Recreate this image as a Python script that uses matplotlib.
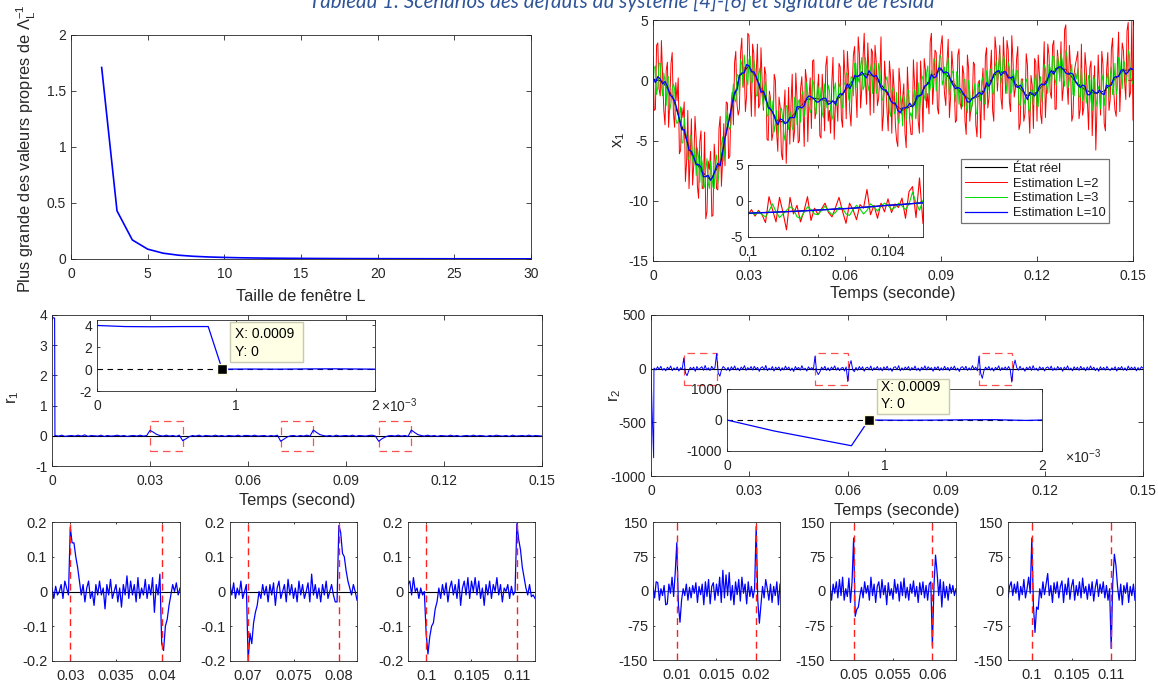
import numpy as np
import matplotlib
matplotlib.use('Agg')
import matplotlib.pyplot as plt
from matplotlib.patches import Rectangle

# ======================= DATA =======================
caption = 'Tableau 1: Scénarios des défauts du système [4]-[6] et signature de résidu'

# --- top-left: largest eigenvalue vs window size
win_L = list(range(2, 31))
eig_max = [1.71, 0.43, 0.17, 0.088, 0.052, 0.034, 0.024, 0.018, 0.014, 0.011,
           0.009, 0.0075, 0.0064, 0.0055, 0.0048, 0.0042, 0.0037, 0.0033, 0.003, 0.0027,
           0.0025, 0.0023, 0.0021, 0.0019, 0.0018, 0.0017, 0.0016, 0.0015, 0.0014]

# --- top-right: state x1 and its estimates
t_true = np.linspace(0, 0.15, 51)
x1_true = [0.1, -0.1, -1.3, -3.8, -6.1, -7.5, -8.3, -6.8, -2.9, 0.3,
           1.2, -0.2, -2.1, -3.4, -3.5, -2.5, -1.6, -1.5, -1.7, -1.8,
           -0.9, 0.2, 0.55, 0.35, -0.6, -1.9, -2.5, -2.1, -1.0, 0.3,
           0.9, 0.1, -1.0, -1.6, -1.3, -0.2, 0.8, 0.4, -0.5, -1.3,
           -1.0, 0.0, 1.0, 0.9, -0.1, -0.8, -1.1, -0.9, 0.0, 0.8, 0.9]
# estimates sampled every 0.375 ms: values on the 0.75 ms grid, then the in-between samples
t_est = np.linspace(0, 0.15, 401)
x1_L2_grid = [1.9, -2.4, 3.1, -1.3, 0.5, -3.7, 1.5, -1.8, 2.3, -3.9,
              -1.7, -6.1, -2.3, -1.8, -6.8, -9.0, -3.2, -6.9, -4.9, -9.8,
              -4.2, -8.8, -11.5, -6.7, -5.9, -11.2, -6.9, -9.1, -3.0, -6.7,
              -7.1, -1.9, -6.3, -1.0, 1.5, -2.0, -2.4, 3.5, 1.1, -1.3,
              3.7, -3.0, 2.2, 0.6, -2.3, 2.7, -2.5, 0.5, -5.0, -1.6,
              -4.4, 0.0, -5.9, -2.2, -6.6, -0.8, -4.1, -5.3, 0.5, -4.2,
              -1.5, -5.0, 0.3, -5.5, 0.0, -1.4, -4.0, 1.7, -2.5, 0.5,
              -4.8, -1.2, 1.2, -3.4, -4.4, 1.9, -2.1, -3.4, 1.1, -3.9,
              0.3, 2.4, -2.6, -0.6, 2.8, -3.1, 2.2, -0.7, 3.9, -2.0,
              0.6, 2.6, -2.7, 1.6, -1.5, 3.6, -2.9, -0.3, -4.2, 0.3,
              0.9, -3.7, -5.5, -0.3, -1.6, -4.4, 1.1, -3.4, -4.5, -0.4,
              1.5, -4.4, -0.6, 1.8, -2.3, -2.8, 3.9, -0.3, 2.3, -2.8,
              2.9, 0.5, -2.1, 3.4, -1.4, 0.9, -3.5, 2.1, -1.9, 1.2,
              -3.4, 2.1, -3.4, -2.1, 1.3, -4.7, 0.0, -0.5, -3.3, 2.7,
              -1.5, 2.5, -3.4, 2.5, 1.0, -1.5, 3.6, -1.1, 2.5, -2.6,
              1.6, -0.7, 2.8, -3.6, 0.1, -2.8, 1.3, -4.4, -0.4, 1.8,
              -3.4, 0.5, -3.6, 3.2, -0.8, 2.1, -1.5, 3.3, -2.4, 1.3,
              3.2, -0.6, 4.6, -2.0, 1.0, -2.9, 1.3, 2.4, -2.4, -2.9,
              2.3, -1.8, 1.0, -4.6, 1.2, -2.3, -0.6, 2.4, -3.6, 0.8,
              -2.5, 2.6, -1.0, -3.0, 4.0, 0.1, 2.5, -1.6, 4.8, -1.0,
              -3.3]
x1_L2_mid = [-2.5, 2.9, -0.7, 3.3, -2.5, 0.8, -3.9, 1.4, -2.7, -0.2,
             0.2, -5.8, -3.1, -8.4, -2.5, -6.3, -8.7, -3.0, -8.8, -5.1,
             -9.0, -4.3, -10.9, -7.4, -11.3, -5.3, -9.0, -4.0, -8.8, -3.6,
             -1.8, -6.5, -2.1, -3.7, 2.4, -2.9, 2.3, -0.6, -2.6, 3.9,
             0.1, 3.0, -3.0, 3.0, -2.0, -0.2, 1.1, -4.9, -0.9, -5.0,
             0.5, -4.3, -1.4, -6.1, -2.6, -6.9, -0.6, -2.0, -5.1, 0.6,
             -5.2, -0.7, -2.3, 0.9, -5.1, 0.2, 1.6, -3.2, -0.9, -4.6,
             0.5, -4.2, 2.0, -2.5, -0.2, -4.9, -1.5, 1.4, -3.2, 2.5,
             -3.2, 0.4, -3.8, 2.1, -0.8, 3.6, -2.3, 1.8, -0.1, 3.1,
             -2.9, 2.3, 2.9, -2.1, 0.3, -4.2, 1.6, -2.5, 1.6, -4.4,
             -0.8, -5.0, 1.0, -2.8, -0.3, -5.6, -1.3, -4.5, 1.7, -3.2,
             -3.4, 1.6, -4.3, 0.9, -1.1, 3.2, -2.0, 2.5, -2.3, 1.6,
             3.7, -1.2, 1.5, -3.1, 2.4, -0.5, -3.3, 2.6, -2.4, 0.5,
             -4.5, 1.0, -2.2, 1.5, -3.7, -0.2, -4.8, 1.0, 2.0, -2.3,
             0.7, -2.5, 3.6, -0.9, 2.9, -2.4, 1.0, 3.3, -1.8, 3.7,
             -1.4, 1.8, -4.1, 0.1, -3.4, 2.2, -2.3, 0.4, -4.0, 1.5,
             2.1, -2.8, 0.3, -3.1, 3.0, -1.0, 2.9, -2.4, 2.5, 0.2,
             -1.7, 4.2, -0.3, 2.9, -3.4, 0.6, 1.8, -3.2, 3.0, -2.3,
             1.0, -4.1, 1.6, -1.8, -5.8, 2.1, -2.9, 1.3, -4.2, 2.3,
             -1.6, 3.5, -2.5, 1.3, -2.6, 3.1, -0.1, 4.1, -1.4, 4.9]
x1_L3_grid = [-0.7, 1.2, -0.5, 1.4, -1.3, -0.1, 0.3, -2.5, -0.7, -0.7,
              -3.6, -2.8, -5.2, -3.1, -4.8, -6.4, -4.6, -7.1, -7.9, -6.4,
              -6.3, -9.0, -7.4, -8.5, -6.7, -8.9, -6.7, -8.6, -6.5, -4.7,
              -5.6, -2.5, -4.1, -1.5, -1.6, 0.5, -1.3, 1.3, 2.1, 0.1,
              1.7, -0.3, 1.7, -1.3, 0.5, -0.6, -2.2, -0.1, -2.9, -2.0,
              -1.7, -3.7, -4.7, -2.5, -3.1, -5.0, -2.2, -3.5, -3.9, -1.4,
              -3.7, -1.6, -1.2, -3.0, -0.2, -2.1, -2.4, -0.3, -2.8, -1.0,
              -0.6, -3.1, -1.4, -0.4, -2.5, -2.9, -0.2, -2.0, -0.6, -2.3,
              -0.3, 0.5, -1.9, 0.2, 1.4, -0.6, -0.2, 1.9, -0.5, 1.0,
              -0.9, 1.4, 0.8, -1.1, 1.4, -0.7, -1.7, 0.0, -0.6, -3.0,
              -0.6, -2.6, -3.2, -1.3, -3.8, -1.8, -1.1, -3.0, -3.3, -0.8,
              -1.3, -2.7, 0.4, -1.3, 0.6, -1.2, 0.8, 1.8, -0.9, 1.0,
              1.9, 0.0, -0.7, 1.8, -0.3, 0.6, -1.8, 0.4, -0.9, -2.2,
              0.1, -2.7, -1.0, -2.0, -0.3, -2.8, -0.6, -0.1, -1.9, 0.8,
              -0.8, 0.9, -1.2, 1.6, 1.1, -0.3, 2.0, -0.2, 1.5, -1.1,
              0.9, -0.5, 0.8, -2.1, -0.4, -2.0, -0.1, -2.7, -0.8, 0.0,
              -2.1, -0.2, -1.8, 1.3, -0.4, 1.3, -0.4, 2.0, -0.4, 1.3,
              2.2, 0.1, 2.5, -0.6, 0.6, -1.2, 0.6, 1.0, -1.4, -1.7,
              0.6, -1.2, 0.0, -2.5, 0.0, -1.7, -0.8, 0.5, -2.1, 0.1,
              -1.4, 1.1, -0.5, -1.2, 1.9, 0.4, 1.6, -0.3, 2.5, 0.2,
              -0.3]
x1_L3_mid = [1.0, -1.2, 1.4, -0.5, 0.6, -2.1, 0.3, -1.9, -0.3, -3.2,
             -3.4, -2.2, -5.2, -4.1, -6.6, -4.6, -6.6, -5.6, -5.6, -8.5,
             -6.9, -8.8, -6.5, -9.0, -7.8, -9.0, -6.2, -7.6, -5.3, -6.7,
             -3.3, -3.8, -3.7, -0.3, -1.8, 0.4, 1.7, -0.5, 1.1, -0.4,
             2.0, -0.1, 0.9, -1.3, 1.0, -1.4, -0.5, -3.0, -1.2, -2.9,
             -4.3, -2.5, -3.6, -2.3, -4.5, -2.1, -4.1, -2.6, -4.2, -1.6,
             -1.8, -3.5, -0.9, -2.2, -1.2, -2.7, 0.0, -2.4, -0.3, -2.2,
             -2.7, -0.3, -2.3, -0.8, -3.3, -0.8, -2.1, -0.2, -2.0, -0.3,
             0.6, -1.5, 0.3, -1.3, 1.4, 0.2, 1.2, -0.8, 1.9, -0.4,
             0.8, -1.1, 1.4, -0.7, 0.8, -1.6, -0.5, 0.3, -2.6, -0.9,
             -2.8, -1.0, -3.6, -1.8, -1.3, -3.3, -0.8, -2.7, -1.3, -3.1,
             -0.2, -1.5, 0.1, -1.7, 1.2, -0.7, -0.6, 1.6, 0.3, 2.1,
             -0.4, 1.1, 1.4, -1.2, 0.8, -0.9, 0.7, -2.0, -0.9, 0.0,
             -2.1, 0.0, -2.6, -1.1, -2.7, -0.3, -1.7, 0.3, -2.0, 0.3,
             0.9, -1.0, 1.1, -0.2, 2.2, 0.4, 1.7, -1.1, 1.1, -0.9,
             0.3, 0.8, -2.0, 0.1, -1.6, 0.1, -2.4, -0.8, -2.0, 0.5,
             -2.2, 0.3, -0.9, 1.0, -1.1, 1.0, 2.0, 0.1, 2.0, -0.1,
             1.7, -0.5, 2.0, 0.1, 1.3, -1.3, 0.1, -1.4, 1.0, -1.3,
             -1.9, 0.4, -1.7, 0.4, -2.2, -0.5, -2.4, 0.0, -1.1, 0.6,
             0.3, -1.2, 1.4, -0.5, 1.6, -0.7, 1.5, 0.3, 2.1, 0.0]
# L=10 estimate every 0.75 ms: samples on the 1.5 ms grid, then the in-between samples
t_L10 = np.linspace(0, 0.15, 201)
x1_L10_grid = [0.2, 0.3, -0.3, -0.5, -1.4, -2.4, -4.1, -4.9, -5.9, -7.0,
               -7.2, -8.0, -8.3, -7.4, -7.1, -4.8, -3.1, -1.0, 0.4, 0.6,
               1.2, 0.7, -0.3, -0.9, -2.3, -2.7, -3.7, -3.3, -3.5, -3.1,
               -2.2, -2.3, -1.5, -1.4, -1.8, -1.6, -1.5, -1.9, -2.0, -1.1,
               -0.8, -0.7, 0.4, 0.4, 0.4, 0.8, 0.3, 0.0, -0.8, -1.1,
               -1.9, -2.5, -2.3, -2.2, -2.2, -1.3, -1.2, -0.4, 0.5, 0.3,
               1.0, 0.7, 0.0, -0.7, -0.7, -1.3, -1.8, -1.4, -1.0, -0.9,
               -0.5, 0.5, 0.8, 0.7, 0.2, 0.3, -0.6, -0.7, -1.6, -1.1,
               -1.0, -0.3, -0.2, 0.8, 0.9, 1.1, 0.6, 0.6, -0.1, -0.6,
               -0.5, -1.2, -1.0, -0.8, -1.2, -0.5, 0.2, 0.3, 0.9, 0.7,
               0.9]
x1_L10_mid = [-0.2, 0.1, -0.1, -1.2, -1.7, -3.3, -4.1, -5.8, -6.4, -7.0,
              -8.0, -7.9, -8.0, -6.9, -6.0, -3.9, -1.9, -0.8, 0.6, 1.3,
              0.7, 0.3, -1.0, -1.4, -2.4, -3.3, -3.2, -3.6, -3.1, -3.1,
              -2.2, -2.1, -1.3, -1.5, -1.8, -1.5, -2.0, -1.7, -1.4, -1.2,
              -0.3, -0.3, 0.3, 0.7, 0.2, 0.5, 0.4, -0.6, -0.8, -1.7,
              -1.9, -2.7, -2.3, -1.9, -2.0, -1.3, -0.5, -0.2, 0.2, 1.0,
              0.6, 0.6, -0.4, -0.6, -1.0, -1.8, -1.5, -1.2, -1.2, -0.2,
              -0.1, 0.7, 0.4, 0.7, 0.2, -0.5, -0.4, -1.2, -1.0, -1.3,
              -0.5, -0.4, 0.5, 0.5, 1.1, 0.9, 0.5, 0.5, -0.4, -0.4,
              -1.2, -0.8, -1.1, -1.1, -0.4, -0.4, 0.3, 0.8, 0.5, 1.0]
legend_labels = ['État réel', 'Estimation L=2', 'Estimation L=3', 'Estimation L=10']

# --- top-right inset (zoom 0.1 .. 0.105)
t_ins = np.linspace(0.1, 0.105, 51)
t_ins_true = np.linspace(0.1, 0.105, 6)
x1_ins_true = [-1.70, -1.50, -1.25, -1.00, -0.60, -0.25]
x1_ins_L2 = [-1.9, -1.2, -2.1, -1.3, -1.9, -3.0, 0.6, -1.2, -2.9, 0.5,
             -1.6, -4.0, 0.5, -1.8, -0.6, -2.9, -1.4, 0.6, -2.7, -1.0,
             -1.9, -1.1, -0.3, -1.6, -2.2, -0.9, 0.5, -1.4, -3.1, -0.3,
             -1.2, -2.6, -0.5, -1.0, 1.6, -1.9, -0.6, -2.4, -0.3, -1.5,
             0.3, -1.6, -0.4, -0.9, 0.4, -2.4, 1.3, 2.0, -2.3, 3.2, -3.1]
x1_ins_L3 = [-1.8, -1.6, -1.9, -1.5, -1.9, -2.2, -1.4, -0.4, -1.5, -2.3,
             -1.8, -1.3, -0.8, -1.1, -2.2, -2.4, -1.6, -0.8, -1.2, -1.8,
             -1.9, -1.3, -0.7, -1.4, -1.9, -1.6, -0.9, -1.0, -1.8, -2.0,
             -1.2, -0.6, -1.1, -1.8, -1.3, -0.4, -0.8, -1.4, -0.7, -0.3,
             -0.6, -1.2, -0.9, -0.3, -0.7, -1.2, -0.4, 1.2, -0.2, -1.3, 0.1]
x1_ins_L10 = [-1.70, -1.68, -1.66, -1.65, -1.62, -1.60, -1.58, -1.57, -1.54, -1.52,
              -1.50, -1.49, -1.46, -1.44, -1.42, -1.40, -1.38, -1.35, -1.32, -1.29,
              -1.25, -1.24, -1.21, -1.18, -1.14, -1.10, -1.09, -1.07, -1.05, -1.02,
              -1.00, -0.96, -0.92, -0.88, -0.84, -0.80, -0.77, -0.73, -0.68, -0.64,
              -0.60, -0.58, -0.55, -0.52, -0.48, -0.45, -0.40, -0.36, -0.31, -0.28, -0.25]

# --- middle-left: residual r1
r1_t = np.concatenate([[0.0, 0.0002, 0.0004, 0.0006, 0.0008, 0.0009], np.linspace(0.001, 0.15, 150)])
r1_val = [4.0, 3.93, 3.9, 3.9, 3.9, 0.0,
          .01, -.01, .02, -.02, .0, .01, -.01, .02, -.01, .03,
          -.02, .01, .0, -.01, .02, -.02, .01, -.01, .0, .02,
          -.01, .01, -.02, .0, .01, -.01, .02, -.01, .01,
          .18, .12, .05, .01, -.01, .02, -.01, .01, -.02, .02,
          -.16, -.10, -.03, .01, -.01, .02, -.02, .01, .0, -.01,
          .02, -.01, .01, -.02, .01, .0, -.01, .02, -.02, .01,
          .01, -.01, .02, -.01, .0, .01, -.02, .01, -.01, .02,
          -.18, -.11, -.04, .0, .01, -.02, .01, -.01, .02, -.01,
          .19, .11, .04, .01, -.01, .01, -.02, .02, -.01, .0,
          .01, -.01, .02, -.02, .01, .0, -.01, .01, .02, -.01,
          -.18, -.10, -.04, .0, .01, -.01, .02, -.01, .01, -.02,
          .19, .11, .04, .01, -.01, .02, -.01, .01, -.02, .01,
          .0, -.01, .02, -.01, .01, -.02, .0, .01, -.01, .02,
          -.01, .01, .0, -.02, .01, -.01, .02, .0, -.01, .01,
          -.02, .02, -.01, .0, .01, -.01, .02, -.01, .01, .0, -.01]
r1_events = [(0.03, 0.04), (0.07, 0.08), (0.10, 0.11)]
r1_box_half = 0.5
r1_ins_t = [0, 0.0001, 0.0002, 0.0004, 0.0006, 0.0008, 0.0009, 0.0011, 0.0013, 0.0015, 0.0017, 0.0019, 0.002]
r1_ins_val = [4.0, 3.95, 3.9, 3.88, 3.9, 3.9, 0.0, 0.01, 0.0, 0.02, 0.03, 0.01, 0.0]

# --- middle-right: residual r2
r2_t = np.concatenate([[0.0, 0.0003, 0.0008, 0.0009], np.linspace(0.001, 0.15, 299)])
r2_val = [0, -355, -830, 0,
          5, -12, 18, -8, 22, -15, 3, -20, 14, -5, 25, -18, 7, -10, 16, -22, 9, -6, 100, -40,
          -65, -20, 12, -8, 15, -25, 20, -10, 5, 18, -15, 30, -12, 8, -18, 22, -5, 10, 140, -40,
          -70, -10, 20, 5, -15, 12, -22, 18, -8, 25, -12, 6, -20, 15, -5, 28, -16, 10, -9, 20,
          -14, 22, -6, 12, -25, 8, 18, -12, 30, -18, 5, -10, 20, -22, 14, -4, 16, -20, 9, -12,
          24, -8, 15, -18, 6, -26, 20, -5, 12, -15, 28, -10, 4, -22, 17, -7, 10, -12, 115, -25,
          -55, -30, 14, -10, 22, -16, 8, -20, 15, -5, 26, -14, 10, -18, 5, 12, -22, 16, -120, 30,
          75, -10, -28, 12, -15, 20, -8, 18, -24, 6, 14, -12, 25, -18, 9, -6, 20, -14, 10, -20,
          16, -8, 22, -15, 5, -25, 12, 18, -10, 28, -20, 8, -12, 15, -5, 20, -18, 10, -8, 24,
          -16, 6, -22, 14, -9, 26, -12, 18, -6, 10, -24, 15, -4, 20, -18, 8, -14, 22, -10, 12,
          -20, 16, -8, 24, -14, 5, -26, 12, 18, -10, 22, -16, 8, -12, 28, -6, 14, -20, 115, -40,
          -90, -20, 15, -10, 20, -14, 8, -22, 12, -5, 26, -18, 10, -8, 16, -12, 20, -6, -125, 20,
          80, 10, -15, 22, -10, 6, -24, 14, -8, 20, -16, 28, -12, 5, -20, 18, -6, 12, -22, 10,
          16, -10, 24, -18, 8, -14, 20, -6, 12, -24, 15, -8, 26, -12, 6, -20, 18, -10, 14, -16,
          22, -6, 10, -20, 16, -12, 25, -8, 14, -18, 6, -24, 18, -10, 12, -14, 20, -5, -16, 8,
          -10, 18, -22, 12, -6, 20, -14, 8, -18, 24, -10, 14, -8, 16, -20, 10, -12, 18, 5]
r2_events = [(0.01, 0.02), (0.05, 0.06), (0.10, 0.11)]
r2_box_half = 150
r2_ins_t = [0, 0.0003, 0.00079, 0.0009, 0.0011, 0.0013, 0.0015, 0.0017, 0.0019, 0.002]
r2_ins_val = [0, -355, -830, 0, -8, -4, 6, 10, -14, 0]

tip_x, tip_y = 0.0009, 0

# --- bottom-left: zooms of r1 (dt = 0.2 ms)
r1_zoom_lims = [(0.028, 0.042), (0.068, 0.082), (0.098, 0.112)]
r1_zoom_ticks = [[0.03, 0.035, 0.04], [0.07, 0.075, 0.08], [0.1, 0.105, 0.11]]
r1_zoom_ticklabels = [['0.03', '0.035', '0.04'], ['0.07', '0.075', '0.08'], ['0.1', '0.105', '0.11']]
r1_zoom_1 = [.01, -.02, .015, -.01, .0, .02, -.02, .03, .01, -.01,
             .185, .14, .14, .10, .07, .03, -.01, .02, -.03, .01,
             .03, -.02, .0, -.04, .02, -.01, .03, -.01, .01, -.05,
             .02, -.01, .035, -.02, .0, .02, -.03, .01, -.045, .02,
             -.01, .045, -.02, .03, -.01, .02, -.03, .04, -.02, .01,
             -.01, .035, -.02, .02, -.01, .04, -.06, .02, -.01, .05,
             -.15, -.17, -.10, -.08, -.04, -.01, .02, .0, .025, -.01, .01]
r1_zoom_2 = [.02, -.01, .025, -.02, .01, -.01, .03, -.02, .0, .02,
             -.20, -.12, -.15, -.09, -.06, -.04, .0, -.02, .02, -.01,
             .015, -.03, .02, -.01, .025, -.04, .01, .03, -.02, .0,
             .02, -.03, .035, -.01, .02, -.02, .01, -.03, .03, -.01,
             .02, -.02, .0, .025, -.03, .05, -.01, .02, -.02, .01,
             -.03, .02, -.01, .03, -.02, .0, .02, -.01, -.03, -.03,
             .19, .17, .11, .10, .06, .03, .01, -.01, .02, .0, -.025]
r1_zoom_3 = [.02, .03, -.01, .04, .0, .01, -.02, .01, -.01, .0,
             -.12, -.18, -.13, -.10, -.09, -.05, -.03, .01, -.02, .02,
             -.01, .025, -.03, .01, .03, -.01, .02, -.02, .035, -.04,
             .01, .03, -.01, .04, -.02, .03, .0, .04, -.01, .03,
             -.02, .01, -.04, .02, -.01, .03, -.02, .02, .0, .04,
             -.01, .02, -.03, .01, .0, .02, -.02, .015, -.01, .0,
             .195, .15, .12, .07, .04, .01, -.01, .02, -.015, -.01, -.02]
r1_zooms = [r1_zoom_1, r1_zoom_2, r1_zoom_3]

# --- bottom-right: zooms of r2 (dt = 0.2 ms)
r2_zoom_lims = [(0.007, 0.023), (0.047, 0.063), (0.097, 0.113)]
r2_zoom_ticks = [[0.01, 0.015, 0.02], [0.05, 0.055, 0.06], [0.1, 0.105, 0.11]]
r2_zoom_ticklabels = [['0.01', '0.015', '0.02'], ['0.05', '0.055', '0.06'], ['0.1', '0.105', '0.11']]
r2_zoom_1 = [10, -15, 20, 18, -20, 5, -10, 12, -30, -28,
             15, -5, 30, -12, 40, 105, -30, -68, -20, 5,
             -10, 15, -20, 8, -15, 12, -5, 18, -25, 10,
             -8, 15, -30, 20, -12, 25, -28, 10, 18, -20,
             15, -10, 30, -25, 45, -15, 35, -10, 40, -20,
             12, -30, 20, -8, 25, -22, 30, -5, 15, -28,
             20, -12, 10, -15, 5, 140, -20, -70, -30, 10,
             -15, 25, 5, -20, 15, -25, 10, -10, 20, -30, 15]
r2_zoom_2 = [10, -20, 15, -5, 20, -15, 25, -10, 30, -20,
             5, -12, 28, -25, 20, 115, -55, -40, -35, -10,
             8, -15, 20, -5, 12, -20, 30, -10, 15, -25,
             10, 20, -15, 25, -8, 12, -30, 18, -10, 5,
             -18, 25, -5, 15, -22, 20, -10, 28, -15, 8,
             -20, 15, -5, 22, -12, 10, -25, 18, -8, 20,
             -15, 12, -20, 15, 20, -120, 10, 78, 40, -10,
             25, -35, 20, -15, 10, -20, 15, -5, 12, -10, 5]
r2_zoom_3 = [-15, 10, 20, -10, 15, -5, 20, -20, 10, -8,
             25, -15, 5, 30, -5, 115, -30, -90, -35, -40,
             5, -15, 20, -8, 15, 38, -10, 12, -25, 18,
             -5, 20, -15, 10, 22, -25, 15, -8, 28, -18,
             10, 25, -20, 12, -10, 20, -15, 28, -5, 10,
             -18, 15, -10, 20, -22, 8, 25, -12, 15, -5,
             20, -15, 12, -20, 5, -125, 20, 80, 55, 10,
             -20, 15, -30, 12, -5, 18, -25, 10, -10, 15, -20]
r2_zooms = [r2_zoom_1, r2_zoom_2, r2_zoom_3]

main_xticks = [0, 0.03, 0.06, 0.09, 0.12, 0.15]
main_xticklabels = ['0', '0.03', '0.06', '0.09', '0.12', '0.15']


def interleave(grid_vals, mid_vals):
    out = np.empty(len(grid_vals) + len(mid_vals))
    out[0::2] = grid_vals
    out[1::2] = mid_vals
    return out


x1_L2 = interleave(x1_L2_grid, x1_L2_mid)
x1_L3 = interleave(x1_L3_grid, x1_L3_mid)
x1_L10 = interleave(x1_L10_grid, x1_L10_mid)

# ======================= STYLE / LAYOUT =======================
plt.rcParams['font.family'] = ['Liberation Sans', 'DejaVu Sans']
plt.rcParams['mathtext.fontset'] = 'custom'
plt.rcParams['mathtext.rm'] = 'Liberation Sans'
plt.rcParams['mathtext.it'] = 'Liberation Sans:italic'
plt.rcParams['mathtext.bf'] = 'Liberation Sans:bold'
plt.rcParams['axes.unicode_minus'] = False

W, H = 1158, 682
fig = plt.figure(figsize=(W / 100, H / 100), dpi=100)
fig.patch.set_facecolor('white')
AX_C = '0.15'
TICK_FS = 10
LAB_FS = 11.8


def add_ax(l, t, r, b):
    return fig.add_axes([l / W, 1 - b / H, (r - l) / W, (b - t) / H])


def style(ax, tl=3.4, fs=TICK_FS, xpad=5.6, ypad=3.5):
    for s in ax.spines.values():
        s.set_color(AX_C)
        s.set_linewidth(0.6)
    ax.tick_params(direction='in', top=True, right=True, length=tl, width=0.6,
                   colors=AX_C, labelsize=fs)
    ax.tick_params(axis='x', pad=xpad)
    ax.tick_params(axis='y', pad=ypad)


def ftext(px, py, s, **kw):
    kw.setdefault('color', AX_C)
    return fig.text(px / W, 1 - py / H, s, **kw)


# ---------------- caption (cut by the top edge, as in the source) ----------------
fig.text(622 / W, 1 - 8 / H, caption, ha='center', va='baseline', fontsize=14.8,
         style='italic', color='#2F5597', family=['Lato', 'DejaVu Sans'])

# ---------------- top-left ----------------
ax = add_ax(71, 35, 531, 259)
ax.plot(win_L, eig_max, color='#0000FF', lw=1.2)
ax.set_xlim(0, 30)
ax.set_ylim(0, 2)
ax.set_xticks([0, 5, 10, 15, 20, 25, 30])
ax.set_yticks([0, 0.5, 1, 1.5, 2])
ax.set_yticklabels(['0', '0.5', '1', '1.5', '2'])
style(ax)
ftext(301, 296, 'Taille de fenêtre L', ha='center', va='center', fontsize=LAB_FS)
ftext(26, 149, r'Plus grande des valeurs propres de $\Lambda_\mathrm{L}^{-1}$', rotation=90,
      ha='center', va='center', fontsize=LAB_FS)

# ---------------- top-right ----------------
ax = add_ax(653, 20, 1133, 261)
h0, = ax.plot(t_true, x1_true, color='k', lw=0.8)
h1, = ax.plot(t_est, x1_L2, color='#FF0000', lw=0.7)
h2, = ax.plot(t_est, x1_L3, color='#00DD00', lw=0.7)
h3, = ax.plot(t_L10, x1_L10, color='#0000FF', lw=0.9)
ax.set_xlim(0, 0.15)
ax.set_ylim(-15, 5)
ax.set_xticks(main_xticks)
ax.set_xticklabels(main_xticklabels)
ax.set_yticks([-15, -10, -5, 0, 5])
style(ax)
leg = ax.legend([h0, h1, h2, h3], legend_labels, loc='upper left', bbox_to_anchor=(0.6417, 0.423),
                fontsize=9.3, frameon=True, fancybox=False, edgecolor='0.45', framealpha=1,
                handlelength=3.3, handletextpad=0.45, labelspacing=0.22, borderpad=0.28,
                borderaxespad=0)
leg.get_frame().set_linewidth(0.9)
for tx in leg.get_texts():
    tx.set_color('0.1')
ftext(893, 293, 'Temps (seconde)', ha='center', va='center', fontsize=LAB_FS)
ftext(619, 140, r'$\mathrm{x_1}$', rotation=90, ha='center', va='center', fontsize=LAB_FS)

axi = add_ax(748, 165, 923, 237)
axi.plot(t_ins_true, x1_ins_true, color='k', lw=0.8)
axi.plot(t_ins, x1_ins_L2, color='#FF0000', lw=0.8)
axi.plot(t_ins, x1_ins_L3, color='#00DD00', lw=0.8)
axi.plot(t_ins, x1_ins_L10, color='#0000FF', lw=1.0)
axi.set_xlim(0.1, 0.105)
axi.set_ylim(-5, 5)
axi.set_xticks([0.1, 0.102, 0.104])
axi.set_xticklabels(['0.1', '0.102', '0.104'])
axi.set_yticks([-5, 0, 5])
style(axi, tl=2.2)

# ---------------- middle-left ----------------
ax = add_ax(52, 315, 542, 466)
ax.plot([0, 0.15], [0, 0], color='k', lw=0.8)
ax.plot(r1_t, r1_val, color='#0000FF', lw=0.8)
for (a, b) in r1_events:
    ax.add_patch(Rectangle((a, -r1_box_half), b - a, 2 * r1_box_half, fill=False,
                           edgecolor='#FF5050', lw=0.9, ls=(0, (6, 4))))
ax.set_xlim(0, 0.15)
ax.set_ylim(-1, 4)
ax.set_xticks(main_xticks)
ax.set_xticklabels(main_xticklabels)
ax.set_yticks([-1, 0, 1, 2, 3, 4])
style(ax)
ftext(297, 500, 'Temps (second)', ha='center', va='center', fontsize=LAB_FS)
ftext(13, 397, r'$\mathrm{r_1}$', rotation=90, ha='center', va='center', fontsize=LAB_FS)

axi = add_ax(97, 320, 375, 391)
axi.plot([0, 0.002], [0, 0], color='k', lw=0.8, ls=(0, (5, 4)))
axi.plot(r1_ins_t, r1_ins_val, color='#0000FF', lw=0.9)
axi.plot([tip_x], [tip_y], 's', color='k', ms=7.5, mec='#FFFFE0', mew=1.0, zorder=6, clip_on=False)
axi.set_xlim(0, 0.002)
axi.set_ylim(-2, 4.5)
axi.set_xticks([0, 0.001, 0.002])
axi.set_xticklabels(['0', '1', '2'])
axi.set_yticks([-2, 0, 2, 4])
style(axi, tl=2.2)
ftext(381, 406, r'$\times\mathrm{10^{-3}}$', ha='left', va='center', fontsize=TICK_FS)

fig.add_artist(Rectangle((230 / W, 1 - 362 / H), 73 / W, 40 / H, transform=fig.transFigure,
                         facecolor='#FFFFE6', edgecolor='#C9C9B0', lw=1.0, zorder=10))
ftext(235, 334, f'X: {tip_x:.4f}', ha='left', va='center', fontsize=10, color='k', zorder=11)
ftext(235, 352, f'Y: {tip_y:g}', ha='left', va='center', fontsize=10, color='k', zorder=11)

# ---------------- middle-right ----------------
ax = add_ax(651, 315, 1143, 476)
ax.plot([0, 0.15], [0, 0], color='k', lw=0.8)
ax.plot(r2_t, r2_val, color='#0000FF', lw=0.7)
for (a, b) in r2_events:
    ax.add_patch(Rectangle((a, -r2_box_half), b - a, 2 * r2_box_half, fill=False,
                           edgecolor='#FF5050', lw=0.9, ls=(0, (6, 4))))
ax.set_xlim(0, 0.15)
ax.set_ylim(-1000, 500)
ax.set_xticks(main_xticks)
ax.set_xticklabels(main_xticklabels)
ax.set_yticks([-1000, -500, 0, 500])
style(ax)
ftext(897, 510, 'Temps (seconde)', ha='center', va='center', fontsize=LAB_FS)
ftext(615, 395, r'$\mathrm{r_2}$', rotation=90, ha='center', va='center', fontsize=LAB_FS)

axi = add_ax(727, 389, 1042, 451)
axi.plot([0, 0.002], [0, 0], color='k', lw=0.8, ls=(0, (5, 4)))
axi.plot(r2_ins_t, r2_ins_val, color='#0000FF', lw=0.9)
axi.plot([tip_x], [tip_y], 's', color='k', ms=7.5, mec='#FFFFE0', mew=1.0, zorder=6, clip_on=False)
axi.set_xlim(0, 0.002)
axi.set_ylim(-1000, 1000)
axi.set_xticks([0, 0.001, 0.002])
axi.set_xticklabels(['0', '1', '2'])
axi.set_yticks([-1000, 0, 1000])
style(axi, tl=2.2)
ftext(1065, 457, r'$\times\mathrm{10^{-3}}$', ha='left', va='center', fontsize=TICK_FS)

fig.add_artist(Rectangle((877 / W, 1 - 414 / H), 72 / W, 35 / H, transform=fig.transFigure,
                         facecolor='#FFFFE6', edgecolor='#C9C9B0', lw=1.0, zorder=10))
ftext(881, 387, f'X: {tip_x:.4f}', ha='left', va='center', fontsize=10, color='k', zorder=11)
ftext(881, 404, f'Y: {tip_y:g}', ha='left', va='center', fontsize=10, color='k', zorder=11)

# ---------------- bottom-left: r1 zooms ----------------
bl_boxes = [(52, 522, 180, 661), (230, 522, 357, 661), (408, 522, 535, 661)]
for k in range(3):
    ax = add_ax(*bl_boxes[k])
    lo, hi = r1_zoom_lims[k]
    tt = np.linspace(lo, hi, len(r1_zooms[k]))
    ax.plot([lo, hi], [0, 0], color='k', lw=0.8)
    ax.plot(tt, r1_zooms[k], color='#0000FF', lw=0.9)
    for ev in r1_events[k]:
        ax.axvline(ev, color='#FF2020', lw=1.0, ls=(0, (5, 3.5)))
    ax.set_xlim(lo, hi)
    ax.set_ylim(-0.2, 0.2)
    ax.set_xticks(r1_zoom_ticks[k])
    ax.set_xticklabels(r1_zoom_ticklabels[k])
    ax.set_yticks([-0.2, -0.1, 0, 0.1, 0.2])
    ax.set_yticklabels(['-0.2', '-0.1', '0', '0.1', '0.2'])
    style(ax, tl=1.6, fs=10.5)

# ---------------- bottom-right: r2 zooms ----------------
br_boxes = [(653, 522, 780, 660), (830, 522, 956, 660), (1008, 522, 1135, 660)]
for k in range(3):
    ax = add_ax(*br_boxes[k])
    lo, hi = r2_zoom_lims[k]
    tt = np.linspace(lo, hi, len(r2_zooms[k]))
    ax.plot([lo, hi], [0, 0], color='0.45', lw=0.9)
    ax.plot(tt, r2_zooms[k], color='#0000FF', lw=0.9)
    for ev in r2_events[k]:
        ax.axvline(ev, color='#FF2020', lw=1.0, ls=(0, (5, 3.5)))
    ax.set_xlim(lo, hi)
    ax.set_ylim(-150, 150)
    ax.set_xticks(r2_zoom_ticks[k])
    ax.set_xticklabels(r2_zoom_ticklabels[k])
    ax.set_yticks([-150, -75, 0, 75, 150])
    style(ax, tl=1.6, fs=10.5)

fig.savefig('out.png', dpi=100, facecolor='white')
